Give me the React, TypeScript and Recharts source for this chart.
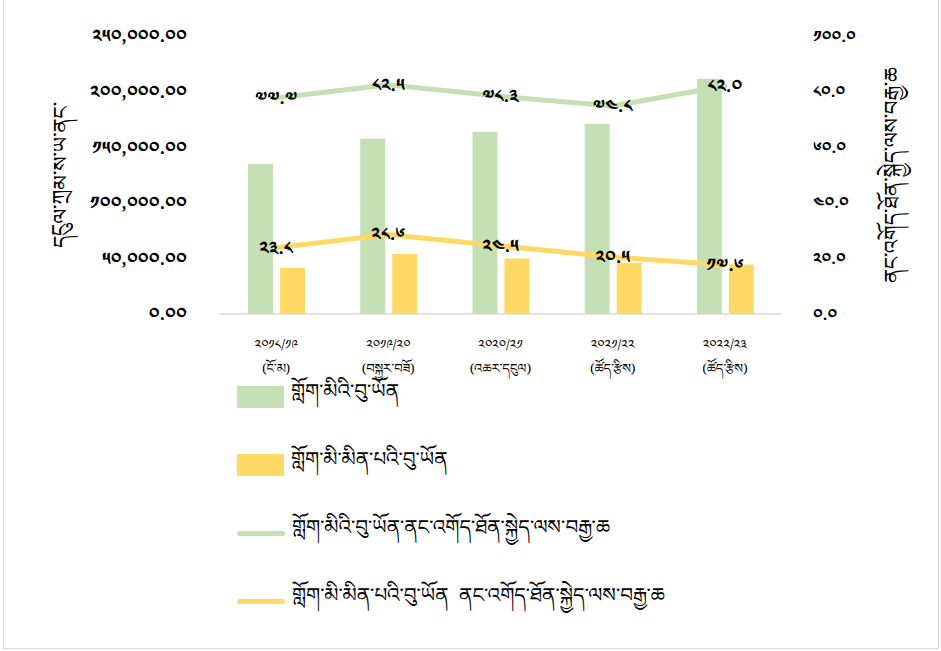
import React from 'react';
import {
  ComposedChart,
  Bar,
  Line,
  XAxis,
  YAxis,
  Legend,
} from 'recharts';

// fiscal years and their status labels
const years = ['༢༠༡༨/༡༩', '༢༠༡༩/༢༠', '༢༠༢༠/༢༡', '༢༠༢༡/༢༢', '༢༠༢༢/༢༣'];
const yearNotes = ['(ངོ་མ)', '(བསྐྱར་བཟོ)', '(འཆར་དངུལ)', '(ཚོད་རྩིས)', '(ཚོད་རྩིས)'];

// bars (left axis)
const boysAmount = [135000, 157500, 164000, 171000, 211500];
const girlsAmount = [41500, 54000, 50000, 46000, 44500];

// lines (right axis, percent)
const boysPct = [77.7, 82.5, 78.3, 74.8, 82.0];
const girlsPct = [23.8, 28.6, 24.5, 20.5, 17.6];

const leftTicks = [0, 50000, 100000, 150000, 200000, 250000];
const rightTicks = [0, 20, 40, 60, 80, 100];

const seriesNames = [
  'གློག་མིའི་བུ་ཡོན',
  'གློག་མི་མིན་པའི་བུ་ཡོན',
  'གློག་མིའི་བུ་ཡོན་ནང་འགོད་ཐོན་སྐྱེད་ལས་བརྒྱ་ཆ',
  'གློག་མི་མིན་པའི་བུ་ཡོན  ནང་འགོད་ཐོན་སྐྱེད་ལས་བརྒྱ་ཆ',
];
const leftTitle = 'དངུལ་ཀྲམ་ས་ཡ་ནང་';
const rightTitle = 'ནང་འགོད་ཐོན་སྐྱེད་ལས་བརྒྱ་ཆ';

const GREEN = '#C5E0B4';
const YELLOW = '#FFD966';
const FONT = '"Noto Sans Tibetan", "Noto Serif Tibetan", Jomolhari, "Microsoft Himalaya", "DejaVu Sans", sans-serif';

const tib = (s: string) => s.replace(/[0-9]/g, (d) => String.fromCharCode(0x0f20 + Number(d)));

const rows = years.map((y, i) => ({
  year: y,
  boys: boysAmount[i],
  girls: girlsAmount[i],
  boysPct: boysPct[i],
  girlsPct: girlsPct[i],
}));

const CategoryTick = (props: any) => {
  const { x, y, payload } = props;
  return (
    <g>
      <text x={x} y={y + 27} textAnchor="middle" fontSize={13} fontFamily={FONT} fill="#000">
        {payload.value}
      </text>
      <text x={x} y={y + 51} textAnchor="middle" fontSize={13} fontFamily={FONT} fill="#000">
        {yearNotes[payload.index]}
      </text>
    </g>
  );
};

const pointLabel = (props: any) => {
  const { x, y, value, index } = props;
  return (
    <text
      key={index}
      x={x}
      y={y}
      dy={6}
      textAnchor="middle"
      fontSize={18}
      fontWeight="bold"
      fontFamily={FONT}
      fill="#000"
    >
      {tib(Number(value).toFixed(1))}
    </text>
  );
};

const LegendBox = () => {
  const items = [
    { name: seriesNames[0], color: GREEN, kind: 'rect' },
    { name: seriesNames[1], color: YELLOW, kind: 'rect' },
    { name: seriesNames[2], color: GREEN, kind: 'line' },
    { name: seriesNames[3], color: YELLOW, kind: 'line' },
  ];
  return (
    <div style={{ fontFamily: FONT }}>
      {items.map((it) => (
        <div key={it.name} style={{ display: 'flex', alignItems: 'center', height: 68 }}>
          {it.kind === 'rect' ? (
            <div style={{ width: 47, height: 22, background: it.color }} />
          ) : (
            <div style={{ width: 48, height: 5, borderRadius: 3, background: it.color }} />
          )}
          <span style={{ marginLeft: 7, fontSize: 20, lineHeight: '24px', color: '#000', whiteSpace: 'pre' }}>
            {it.name}
          </span>
        </div>
      ))}
    </div>
  );
};

const axisTitle = (text: string, dx: number) => (props: any) => {
  const { viewBox } = props;
  const cx = viewBox.x + dx;
  const cy = viewBox.y + viewBox.height / 2;
  return (
    <text
      x={cx}
      y={cy}
      transform={`rotate(-90 ${cx} ${cy})`}
      textAnchor="middle"
      dominantBaseline="central"
      fontSize={21}
      fontFamily={FONT}
      fill="#000"
    >
      {text}
    </text>
  );
};

export default function App() {
  return (
    <div
      style={{
        position: 'absolute',
        left: 0,
        top: 0,
        width: 941,
        height: 651,
        background: '#fff',
      }}
    >
      <div
        style={{
          position: 'absolute',
          left: 3,
          top: 0,
          width: 934,
          height: 648,
          borderLeft: '1px solid #d9d9d9',
          borderRight: '1px solid #d9d9d9',
          borderBottom: '1px solid #d9d9d9',
        }}
      />
      <ComposedChart
        width={941}
        height={651}
        data={rows}
        margin={{ top: 36, right: 0, bottom: 276, left: 0 }}
        barCategoryGap="25%"
        barGap={7}
      >
        <XAxis
          dataKey="year"
          xAxisId={0}
          height={61}
          tickLine={false}
          axisLine={{ stroke: '#d9d9d9', strokeWidth: 1.5 }}
          tick={<CategoryTick />}
          interval={0}
        />
        <YAxis
          yAxisId="left"
          width={220}
          domain={[0, 250000]}
          ticks={leftTicks}
          axisLine={false}
          tickLine={false}
          tickSize={0}
          tickMargin={33}
          tick={{ fontSize: 18, fontWeight: 'bold', fill: '#000', fontFamily: FONT }}
          tickFormatter={(v: number) =>
            tib(v.toLocaleString('en-US', { minimumFractionDigits: 2, maximumFractionDigits: 2 }))
          }
          label={axisTitle(leftTitle, 66)}
        />
        <YAxis
          yAxisId="right"
          orientation="right"
          width={160}
          domain={[0, 100]}
          ticks={rightTicks}
          axisLine={false}
          tickLine={false}
          tickSize={0}
          tickMargin={32}
          tick={{ fontSize: 16, fontWeight: 'bold', fill: '#000', fontFamily: FONT, textAnchor: 'start' }}
          tickFormatter={(v: number) => tib(v.toFixed(1))}
          label={axisTitle(rightTitle, 116)}
        />
        <Legend
          layout="vertical"
          align="center"
          verticalAlign="middle"
          wrapperStyle={{ left: 237, top: 363, width: 600 }}
          content={<LegendBox />}
        />
        <Bar yAxisId="left" dataKey="boys" fill={GREEN} isAnimationActive={false} name={seriesNames[0]} />
        <Bar yAxisId="left" dataKey="girls" fill={YELLOW} isAnimationActive={false} name={seriesNames[1]} />
        <Line
          yAxisId="right"
          type="linear"
          dataKey="boysPct"
          stroke={GREEN}
          strokeWidth={5}
          strokeLinecap="round"
          dot={false}
          activeDot={false}
          label={pointLabel}
          isAnimationActive={false}
          name={seriesNames[2]}
        />
        <Line
          yAxisId="right"
          type="linear"
          dataKey="girlsPct"
          stroke={YELLOW}
          strokeWidth={5}
          strokeLinecap="round"
          dot={false}
          activeDot={false}
          label={pointLabel}
          isAnimationActive={false}
          name={seriesNames[3]}
        />
      </ComposedChart>
    </div>
  );
}
